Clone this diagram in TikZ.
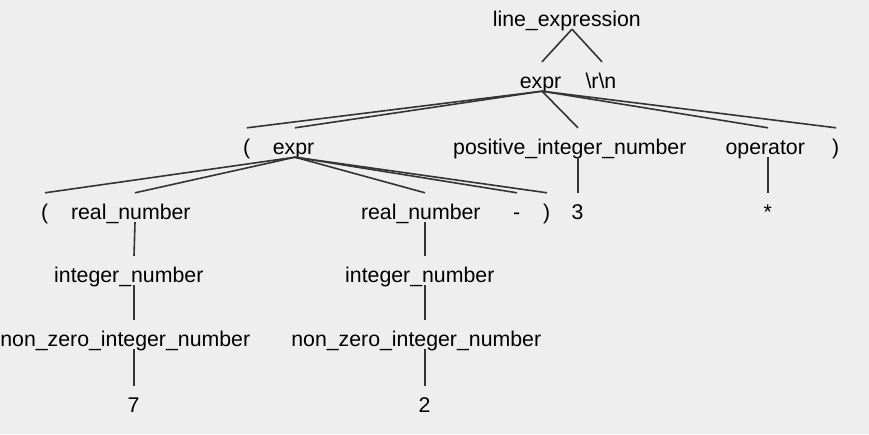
\documentclass[tikz,border=0pt]{standalone}
\usepackage{fontspec}
\setmainfont{Liberation Sans}
\definecolor{bgc}{RGB}{238,238,238}
\definecolor{edgec}{RGB}{51,51,51}
\newcommand{\lb}[1]{\makebox[1.07\width][l]{#1}}

\begin{document}
\begin{tikzpicture}
  [x=1pt,y=-1pt,every node/.style={anchor=base,inner xsep=0pt,inner ysep=0pt,
   text height=26pt,text depth=3pt,font=\fontsize{21.3}{25}\selectfont}]
    \fill[bgc] (0,0) rectangle (869,434);
    \useasboundingbox (0,0) rectangle (869,434);

    \node (le)  at (572,26)  {\lb{line\_expression}};
    \node (e1)  at (542,88)  {\lb{expr}};
    \node (rn)  at (602,88)  {\lb{\textbackslash r\textbackslash n}};
    \node (lp1) at (247,154) {\lb{(}};
    \node (e2)  at (295,154) {\lb{expr}};
    \node (pin) at (578,154) {\lb{positive\_integer\_number}};
    \node (op)  at (768,154) {\lb{operator}};
    \node (rp1) at (836,154) {\lb{)}};
    \node (lp2) at (45,219)  {\lb{(}};
    \node (rn1) at (135,219) {\lb{real\_number}};
    \node (rn2) at (425,219) {\lb{real\_number}};
    \node (mi)  at (517,219) {\lb{-}};
    \node (rp2) at (547,219) {\lb{)}};
    \node (n3)  at (578,219) {\lb{3}};
    \node (st)  at (768,219) {\lb{*}};
    \node (in1) at (134,282) {\lb{integer\_number}};
    \node (in2) at (425,282) {\lb{integer\_number}};
    \node (nz1) at (134,346) {\lb{non\_zero\_integer\_number}};
    \node (nz2) at (425,346) {\lb{non\_zero\_integer\_number}};
    \node (n7)  at (134,412) {\lb{7}};
    \node (n2)  at (425,412) {\lb{2}};

    \foreach \from/\to in {le/e1,le/rn,e1/lp1,e1/e2,e1/pin,e1/op,e1/rp1,
      e2/lp2,e2/rn1,e2/rn2,e2/mi,e2/rp2,pin/n3,op/st,
      rn1/in1,in1/nz1,nz1/n7,rn2/in2,in2/nz2,nz2/n2}
      \draw[edgec,line width=1.6pt] (\from.south) -- (\to.north);

    %\draw (e1) -- (pin) node [midway] {};
  \end{tikzpicture}
\end{document}
